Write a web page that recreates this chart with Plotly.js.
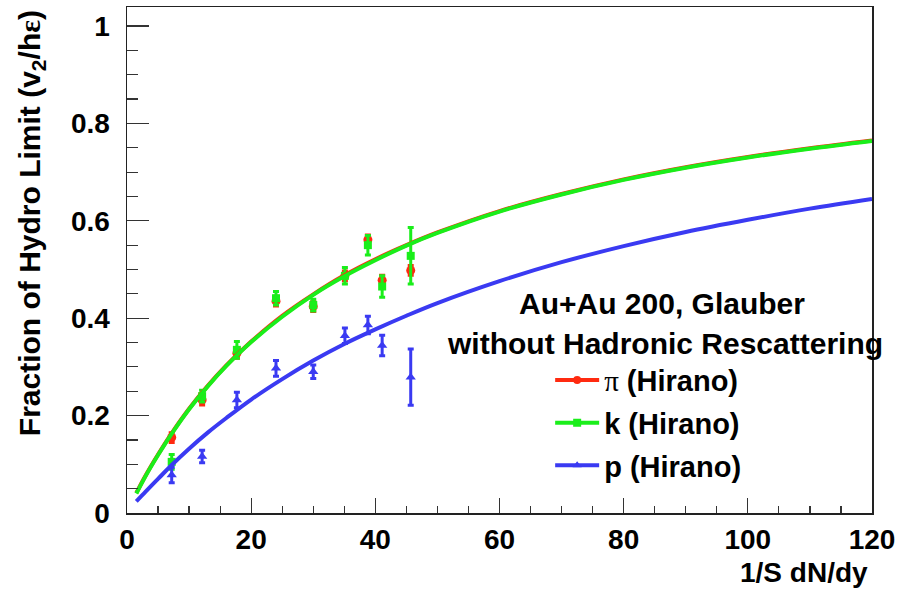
<!DOCTYPE html>
<html>
<head>
<meta charset="utf-8">
<script src="https://cdn.plot.ly/plotly-3.0.1.min.js"></script>
<style>html,body{margin:0;padding:0;background:#fff;}#chart{width:901px;height:589px;}</style>
</head>
<body>
<div id="chart"></div>
<script>
// ---- data ----
var ptX = [7.2, 12.1, 17.7, 24.0, 30.0, 35.1, 38.8, 41.1, 45.7];

var piY   = [0.155, 0.232, 0.328, 0.435, 0.424, 0.487, 0.561, 0.478, 0.498];
var piErr = [0.010, 0.010, 0.010, 0.010, 0.010, 0.010, 0.010, 0.010, 0.010];

var kY    = [0.105, 0.240, 0.335, 0.441, 0.427, 0.487, 0.550, 0.465, 0.528];
var kErr  = [0.015, 0.012, 0.017, 0.014, 0.012, 0.017, 0.020, 0.022, 0.058];

var pY    = [0.078, 0.116, 0.232, 0.297, 0.290, 0.364, 0.386, 0.344, 0.279];
var pErr  = [0.016, 0.013, 0.016, 0.016, 0.014, 0.016, 0.018, 0.021, 0.058];

var curveX  = [1.5, 3, 5, 7, 10, 13, 16, 20, 25, 30, 35, 40, 45, 50, 60, 70, 80, 90, 100, 110, 120];
var piCurve = [0.041, 0.077, 0.120, 0.160, 0.214, 0.261, 0.303, 0.352, 0.405, 0.449, 0.488, 0.521, 0.550, 0.576, 0.620, 0.655, 0.685, 0.710, 0.731, 0.749, 0.765];
var kCurve  = [0.040, 0.076, 0.119, 0.159, 0.213, 0.260, 0.302, 0.351, 0.403, 0.448, 0.486, 0.519, 0.549, 0.575, 0.619, 0.654, 0.684, 0.709, 0.730, 0.748, 0.764];
var pCurve  = [0.024, 0.044, 0.070, 0.096, 0.132, 0.165, 0.195, 0.233, 0.275, 0.313, 0.347, 0.377, 0.405, 0.431, 0.476, 0.515, 0.548, 0.577, 0.602, 0.625, 0.645];

var xTicks = [0, 20, 40, 60, 80, 100, 120];
var yTicks = [0, 0.2, 0.4, 0.6, 0.8, 1];
var yTickText = ['0', '0.2', '0.4', '0.6', '0.8', '1'];

var legendNames = [
  '<span style="font-family:\'Liberation Serif\',serif;font-weight:normal">\u03c0</span> (Hirano)',
  'k (Hirano)',
  'p (Hirano)'
];
var headerLines = ['Au+Au 200, Glauber', 'without Hadronic Rescattering'];

// ---- styles ----
var RED = '#ff2a10', GREEN = '#1aee1a', BLUE = '#3a3af2';
var FONT = 'Liberation Sans, Arial, Helvetica, sans-serif';

function pts(y, err, color, symbol, size) {
  return {
    x: ptX, y: y, type: 'scatter', mode: 'markers', showlegend: false,
    marker: {color: color, symbol: symbol, size: size},
    error_y: {type: 'data', array: err, visible: true, color: color, thickness: 3, width: 3},
    hoverinfo: 'x+y'
  };
}
function curve(y, color) {
  return {
    x: curveX, y: y, type: 'scatter', mode: 'lines', showlegend: false,
    line: {color: color, width: 4, shape: 'spline', smoothing: 1}, hoverinfo: 'skip'
  };
}
function legendItem(name, color, symbol, grp) {
  return {
    x: [null], y: [null], type: 'scatter', mode: 'lines+markers', name: name,
    legendgroup: grp, line: {color: color, width: 4},
    marker: {color: color, symbol: symbol, size: 8}
  };
}

var data = [
  pts(piY, piErr, RED, 'circle', 9),
  pts(kY, kErr, GREEN, 'square', 8),
  pts(pY, pErr, BLUE, 'triangle-up', 9),
  curve(piCurve, RED),
  curve(kCurve, GREEN),
  curve(pCurve, BLUE),
  legendItem(legendNames[0], RED, 'circle', 'a'),
  legendItem(legendNames[1], GREEN, 'square', 'b'),
  legendItem(legendNames[2], BLUE, 'triangle-up', 'c')
];

var layout = {
  width: 901, height: 589,
  margin: {l: 127, r: 29, t: 7, b: 76, pad: 0},
  paper_bgcolor: '#ffffff', plot_bgcolor: '#ffffff',
  font: {family: FONT, color: '#000'},
  showlegend: true,
  xaxis: {
    range: [0, 120], tickvals: xTicks, ticktext: xTicks.map(String),
    showgrid: false, zeroline: false,
    showline: true, linecolor: '#222', linewidth: 1.5, mirror: true,
    ticks: 'inside', ticklen: 15, tickwidth: 1.2, tickcolor: '#333',
    minor: {dtick: 5, tick0: 0, ticks: 'inside', ticklen: 7, tickwidth: 1.2, tickcolor: '#333', showgrid: false},
    tickfont: {family: FONT, size: 28, weight: 'bold', color: '#000'},
    ticklabelstandoff: 1,
    fixedrange: true
  },
  yaxis: {
    range: [0, 1.039], tickvals: yTicks, ticktext: yTickText,
    showgrid: false, zeroline: false,
    showline: true, linecolor: '#222', linewidth: 1.5, mirror: true,
    ticks: 'inside', ticklen: 22, tickwidth: 1.2, tickcolor: '#333',
    minor: {dtick: 0.05, tick0: 0, ticks: 'inside', ticklen: 11, tickwidth: 1.2, tickcolor: '#333', showgrid: false},
    tickfont: {family: FONT, size: 28, weight: 'bold', color: '#000'},
    ticklabelstandoff: 10,
    fixedrange: true
  },
  legend: {
    x: 0.568, y: 0.313, xanchor: 'left', yanchor: 'top',
    bgcolor: 'rgba(0,0,0,0)', borderwidth: 0,
    font: {family: FONT, size: 29, weight: 'bold', color: '#000'},
    tracegroupgap: 2, itemwidth: 44
  },
  annotations: [
    {text: 'Fraction of Hydro Limit (v<sub>2</sub>/h<span style="font-family:\'Liberation Serif\',serif">\u03b5</span>)',
     xref: 'paper', yref: 'paper', x: -0.128, y: 0.997, xanchor: 'center', yanchor: 'top',
     textangle: -90, showarrow: false,
     font: {family: FONT, size: 30, weight: 'bold', color: '#000'}},
    {text: '1/S dN/dy', xref: 'paper', yref: 'paper', x: 0.997, y: -0.118,
     xanchor: 'right', yanchor: 'middle', showarrow: false,
     font: {family: FONT, size: 28, weight: 'bold', color: '#000'}},
    {text: headerLines[0], xref: 'paper', yref: 'paper', x: 0.718, y: 0.415,
     xanchor: 'center', yanchor: 'middle', showarrow: false,
     font: {family: FONT, size: 30, weight: 'bold', color: '#000'}},
    {text: headerLines[1], xref: 'paper', yref: 'paper', x: 0.722, y: 0.334,
     xanchor: 'center', yanchor: 'middle', showarrow: false,
     font: {family: FONT, size: 30, weight: 'bold', color: '#000'}}
  ]
};

Plotly.newPlot('chart', data, layout, {displayModeBar: false, staticPlot: true});
</script>
</body>
</html>
